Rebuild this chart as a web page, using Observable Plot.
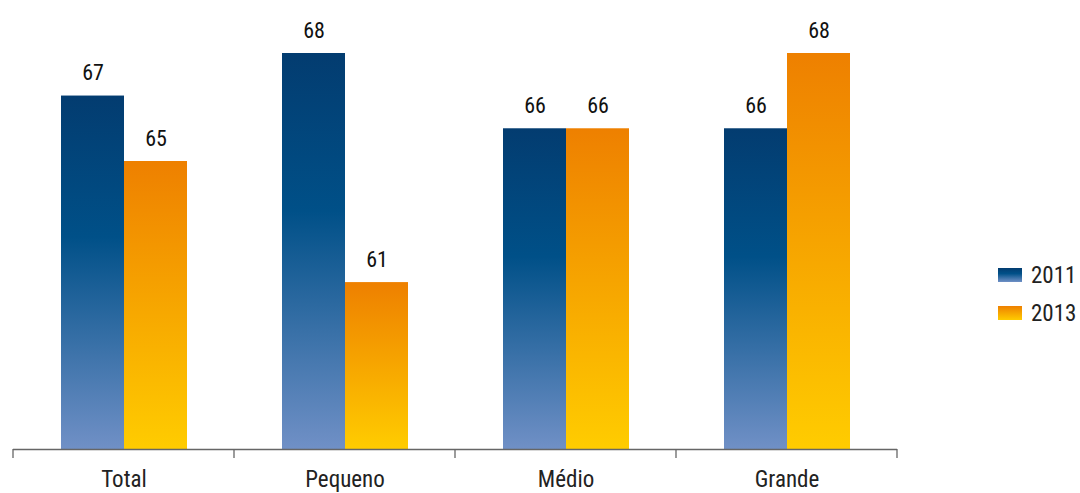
<!DOCTYPE html>
<html>
<head>
<meta charset="utf-8">
<script src="https://cdn.jsdelivr.net/npm/d3@7"></script>
<script src="https://cdn.jsdelivr.net/npm/@observablehq/plot@0.6"></script>
<style>
  body { margin: 0; background: #fff; font-family: "Roboto Condensed", Roboto, sans-serif; font-stretch: condensed; }
  #wrap { position: relative; width: 1080px; height: 493px; }
  #legend { position: absolute; left: 998px; top: 256px; font-size: 23px; color: #222; }
  .item { display: flex; align-items: center; height: 38px; }
  .sw { width: 24px; height: 14px; margin-right: 9px; }
</style>
</head>
<body>
<div id="wrap">
  <div id="chart"></div>
  <div id="legend"></div>
</div>
<script>
const categories = ["Total", "Pequeno", "Médio", "Grande"];
const years = ["2011", "2013"];
const values2011 = [66.7, 68.0, 65.7, 65.7];
const values2013 = [64.7, 61.0, 65.7, 68.0];
const labels2011 = ["67", "68", "66", "66"];
const labels2013 = ["65", "61", "66", "68"];

const data = [];
categories.forEach((c, i) => {
  data.push({cat: c, year: "2011", value: values2011[i], label: labels2011[i]});
  data.push({cat: c, year: "2013", value: values2013[i], label: labels2013[i]});
});

const font = '"Roboto Condensed", Roboto, sans-serif';

const plot = Plot.plot({
  width: 1080,
  height: 493,
  marginLeft: 12,
  marginRight: 183,
  marginTop: 53,
  marginBottom: 44,
  style: {fontFamily: font, fontSize: "22px", color: "#222", background: "#fff", fontStretch: "condensed"},
  fx: {domain: categories, padding: 0, label: null, axis: null},
  x: {domain: years, paddingInner: 0, paddingOuter: 0.74, axis: null},
  y: {domain: [55.9, 68.0], axis: null},
  marks: [
    () => {
      const svg = d3.create("svg:defs");
      const gb = svg.append("linearGradient").attr("id", "gBlue").attr("x1", 0).attr("y1", 0).attr("x2", 0).attr("y2", 1);
      gb.append("stop").attr("offset", "0%").attr("stop-color", "#033c70");
      gb.append("stop").attr("offset", "40%").attr("stop-color", "#005088");
      gb.append("stop").attr("offset", "100%").attr("stop-color", "#7090c6");
      const go = svg.append("linearGradient").attr("id", "gOrange").attr("x1", 0).attr("y1", 0).attr("x2", 0).attr("y2", 1);
      go.append("stop").attr("offset", "0%").attr("stop-color", "#ee8000");
      go.append("stop").attr("offset", "100%").attr("stop-color", "#ffcc00");
      return svg.node();
    },
    Plot.barY(data, {
      fx: "cat", x: "year", y1: 55.9, y2: "value",
      fill: d => d.year === "2011" ? "url(#gBlue)" : "url(#gOrange)"
    }),
    Plot.text(data, {
      fx: "cat", x: "year", y: "value", text: "label",
      lineAnchor: "bottom", dy: -16, fontSize: 22, fill: "#111", fontFamily: font
    }),
    Plot.ruleY([55.9], {stroke: "#666", strokeWidth: 1.3}),
    Plot.axisFx({anchor: "bottom", tickSize: 0, tickPadding: 21, fontSize: 23, fill: "#222", label: null, lineAnchor: "top"})
  ]
});

document.getElementById("chart").appendChild(plot);

// tick marks at category boundaries, positioned via the fx scale
const fx = plot.scale("fx");
const y = plot.scale("y");
const base = y.apply(55.9);
const svgSel = d3.select(plot);
const bounds = categories.map(c => fx.apply(c)).concat([fx.apply(categories[categories.length - 1]) + fx.bandwidth]);
svgSel.append("g").selectAll("line").data(bounds).join("line")
  .attr("x1", d => d).attr("x2", d => d)
  .attr("y1", base).attr("y2", base + 9)
  .attr("stroke", "#666").attr("stroke-width", 1.3);

// legend
const legend = d3.select("#legend");
const grads = {"2011": "linear-gradient(#033c70, #005088 40%, #7090c6)", "2013": "linear-gradient(#ee8000, #ffcc00)"};
years.forEach(yr => {
  const it = legend.append("div").attr("class", "item");
  it.append("div").attr("class", "sw").style("background", grads[yr]);
  it.append("span").text(yr);
});
</script>
</body>
</html>
